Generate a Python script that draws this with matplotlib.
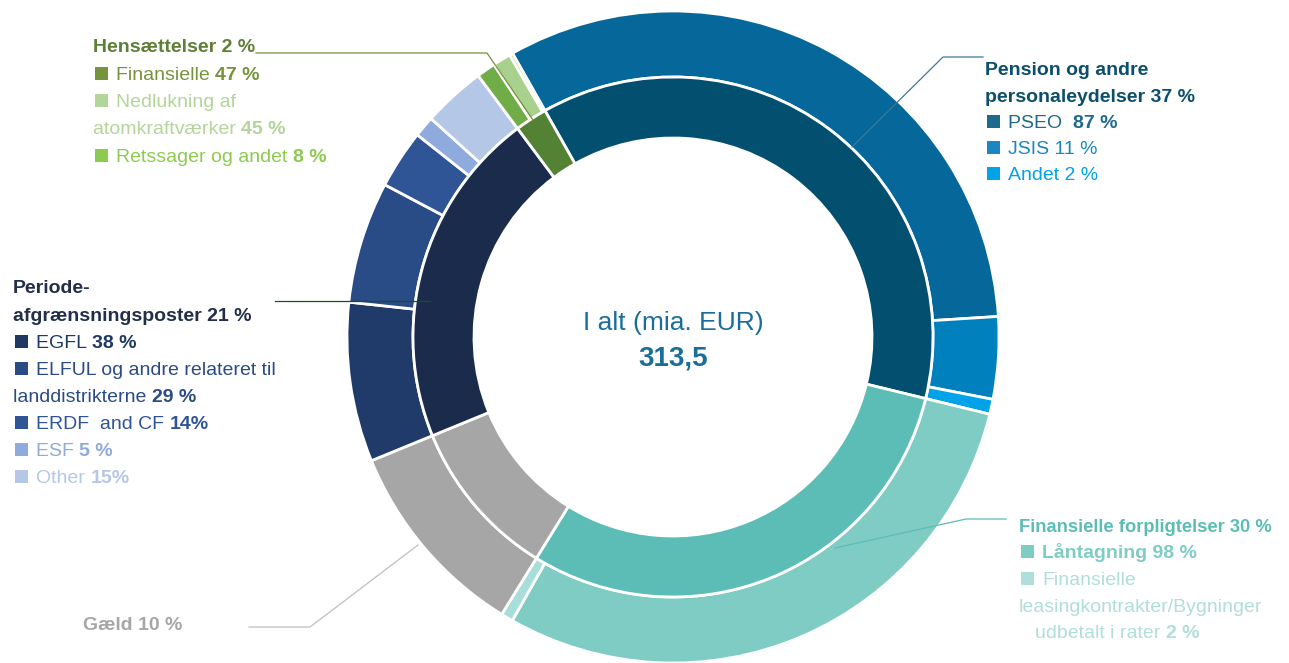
import numpy as np
import matplotlib
matplotlib.use("Agg")
import matplotlib.pyplot as plt
from matplotlib.patches import Rectangle

# Hovedgrupper (indre ring), andele i %
groups = ["Pension og andre personaleydelser", "Finansielle forpligtelser", "Gæld",
          "Periodeafgrænsningsposter", "Hensættelser"]
group_pct = [37, 30, 10, 21, 2]

# Underopdeling (ydre ring), andele i % af gruppen
pension_labels = ["PSEO", "JSIS", "Andet"]
pension_sub = [87, 11, 2]
finans_labels = ["Låntagning", "Finansielle leasingkontrakter/Bygninger udbetalt i rater"]
finans_sub = [98, 2]
gaeld_labels = ["Gæld"]
gaeld_sub = [100]
periode_labels = ["EGFL", "ELFUL og andre relateret til landdistrikterne", "ERDF and CF", "ESF", "Other"]
periode_sub = [38, 29, 14, 5, 15]
hens_labels = ["Finansielle", "Nedlukning af atomkraftværker", "Retssager og andet"]
hens_sub = [47, 45, 8]

total_label = "313,5"

inner_colors = ["#034F6F", "#5BBDB6", "#A6A6A6", "#1B2B4B", "#548235"]
sub_colors = [
    ["#05679A", "#0081BE", "#00A2E8"],
    ["#7FCCC5", "#A8DEDA"],
    ["#A6A6A6"],
    ["#203A6A", "#294B86", "#2F5597", "#8FAADC", "#B4C7E7"],
    ["#70AD47", "#A9D18E", "#92D050"],
]
subs = [pension_sub, finans_sub, gaeld_sub, periode_sub, hens_sub]

outer_vals = []
outer_colors = []
for g, s, c in zip(group_pct, subs, sub_colors):
    s = np.array(s, dtype=float)
    outer_vals += list(g * s / s.sum())
    outer_colors += c

W, H = 1289, 663
fig = plt.figure(figsize=(W / 100, H / 100), dpi=100)
ax = fig.add_axes([0, 0, 1, 1])

cx, cy = 673, H - 337
start = 119.5
ax.pie(outer_vals, radius=326, center=(cx, cy), startangle=start, counterclock=False,
       colors=outer_colors, wedgeprops=dict(width=66, edgecolor="white", linewidth=2))
ax.pie(group_pct, radius=260, center=(cx, cy), startangle=start, counterclock=False,
       colors=inner_colors, wedgeprops=dict(width=61, edgecolor="white", linewidth=2))
ax.set_xlim(0, W)
ax.set_ylim(0, H)
ax.set_aspect("auto")
ax.axis("off")

FONT = ["Liberation Sans Narrow", "Liberation Sans", "DejaVu Sans"]
FS = 14
renderer = fig.canvas.get_renderer()


def line(x, y, parts, size=FS, bullet=None):
    # y er baseline i billedkoordinater (fra toppen)
    yy = H - y
    if bullet is not None:
        ax.add_patch(Rectangle((x + 2, yy), 13, 13, color=bullet, zorder=5, lw=0))
        x = x + 23
    for txt, col, bold in parts:
        t = ax.text(x, yy, txt, color=col, fontsize=size, family=FONT,
                    fontweight="bold" if bold else "normal", va="baseline", ha="left", zorder=6)
        bb = t.get_window_extent(renderer)
        x = ax.transData.inverted().transform((bb.x1, bb.y0))[0]


def leader(pts, color):
    xs = [p[0] for p in pts]
    ys = [H - p[1] for p in pts]
    ax.plot(xs, ys, color=color, lw=0.9, zorder=4)


# Hensættelser
line(93, 52, [("Hensættelser 2 %", "#5E7F36", True)])
line(93, 79.5, [("Finansielle ", "#77933C", False), ("47 %", "#77933C", True)], bullet="#77933C")
line(93, 107, [("Nedlukning af", "#B3D59A", False)], bullet="#B3D59A")
line(93, 134.5, [("atomkraftværker ", "#B3D59A", False), ("45 %", "#B3D59A", True)])
line(93, 162, [("Retssager og andet ", "#8CCB50", False), ("8 %", "#8CCB50", True)], bullet="#8CCB50")
leader([(256, 53), (487, 53), (533, 120)], "#77933C")

# Pension
line(985, 75, [("Pension og andre", "#0B4F6C", True)])
line(985, 102, [("personaleydelser 37 %", "#0B4F6C", True)])
line(985, 128, [("PSEO  ", "#1E6A8C", False), ("87 %", "#1E6A8C", True)], bullet="#1E6A8C")
line(985, 154, [("JSIS 11 %", "#1C86C0", False)], bullet="#1C86C0")
line(985, 180, [("Andet 2 %", "#00A2E8", False)], bullet="#00A2E8")
leader([(983, 57), (943, 57), (852, 147)], "#3F7894")

# Periodeafgrænsningsposter
line(13, 293, [("Periode-", "#222F4B", True)])
line(13, 321, [("afgrænsningsposter 21 %", "#222F4B", True)])
line(13, 348, [("EGFL ", "#1F3864", False), ("38 %", "#1F3864", True)], bullet="#1F3864")
line(13, 375, [("ELFUL og andre relateret til", "#2B4B84", False)], bullet="#2B4B84")
line(13, 402, [("landdistrikterne ", "#2B4B84", False), ("29 %", "#2B4B84", True)])
line(13, 429, [("ERDF  and CF ", "#2F5597", False), ("14%", "#2F5597", True)], bullet="#2F5597")
line(13, 456, [("ESF ", "#8FAADC", False), ("5 %", "#8FAADC", True)], bullet="#8FAADC")
line(13, 483, [("Other ", "#B4C7E7", False), ("15%", "#B4C7E7", True)], bullet="#B4C7E7")
leader([(275, 301), (430, 301)], "#1E4D1E")

# Finansielle forpligtelser
line(1019, 532, [("Finansielle forpligtelser 30 %", "#5BBDB6", True)], size=13.2)
line(1019, 558, [("Låntagning 98 %", "#7FCCC5", True)], bullet="#7FCCC5")
line(1019, 585, [("Finansielle", "#B0DFDB", False)], bullet="#B0DFDB")
line(1019, 612, [("leasingkontrakter/Bygninger", "#B0DFDB", False)])
line(1035, 638, [("udbetalt i rater ", "#B0DFDB", False), ("2 %", "#B0DFDB", True)])
leader([(1006, 519), (966, 519), (835, 548)], "#5BBDB6")

# Gæld
line(83, 630, [("Gæld 10 %", "#A6A6A6", True)])
leader([(249, 627), (310, 627), (418, 545)], "#BFBFBF")

# Midte
ax.text(cx, H - 330, "I alt (mia. EUR)", color="#1A6E9A", fontsize=19, family=FONT,
        ha="center", va="baseline")
ax.text(cx, H - 366, total_label, color="#1A6E9A", fontsize=20, family=FONT,
        fontweight="bold", ha="center", va="baseline")

fig.savefig("out.png", dpi=100)
